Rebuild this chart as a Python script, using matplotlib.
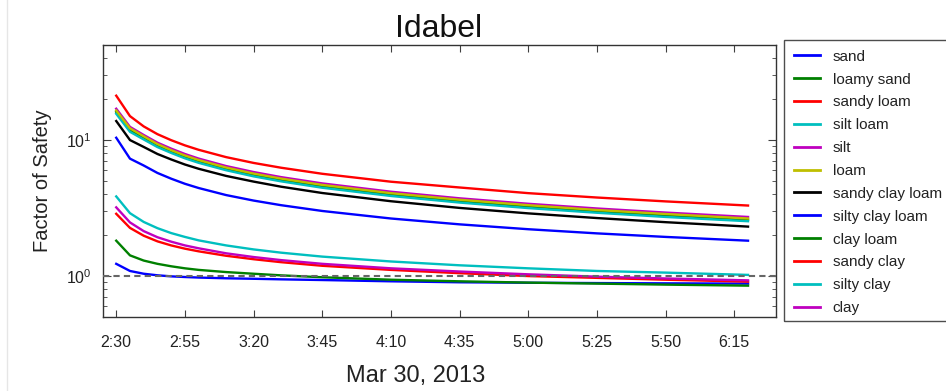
import datetime as dt
import matplotlib
matplotlib.use("Agg")
import matplotlib.pyplot as plt
from matplotlib.lines import Line2D
from matplotlib.patches import Rectangle

plt.rcParams["font.family"] = ["Liberation Sans", "DejaVu Sans"]

# Sample times (Mar 30, 2013)
time_labels = ["2:30", "2:35", "2:40", "2:45", "2:50", "2:55", "3:00", "3:10",
               "3:20", "3:30", "3:45", "4:10", "4:35", "5:00", "5:25", "5:50",
               "6:20"]

# Factor of safety per soil texture class
sand = [10.4, 7.3, 6.5, 5.73, 5.2, 4.77, 4.44, 3.94, 3.59, 3.32, 3.01,
        2.65, 2.40, 2.21, 2.06, 1.94, 1.82]
loamy_sand = [16.1, 11.9, 10.4, 9.14, 8.26, 7.54, 6.98, 6.15, 5.56, 5.10, 4.58,
              3.98, 3.56, 3.25, 3.00, 2.80, 2.60]
sandy_loam = [21.2, 15.0, 12.6, 11.05, 9.98, 9.14, 8.48, 7.49, 6.79, 6.26, 5.65,
              4.94, 4.48, 4.07, 3.78, 3.54, 3.30]
silt_loam = [15.6, 11.5, 10.1, 8.88, 8.04, 7.34, 6.80, 6.00, 5.41, 4.97, 4.46,
             3.88, 3.47, 3.16, 2.92, 2.72, 2.53]
silt = [17.0, 12.5, 10.9, 9.57, 8.65, 7.90, 7.31, 6.44, 5.82, 5.34, 4.80,
        4.17, 3.73, 3.40, 3.14, 2.93, 2.72]
loam = [16.5, 12.2, 10.65, 9.34, 8.43, 7.70, 7.13, 6.28, 5.67, 5.21, 4.68,
        4.07, 3.64, 3.32, 3.06, 2.86, 2.65]
sandy_clay_loam = [13.8, 10.0, 8.9, 7.9, 7.2, 6.61, 6.15, 5.45, 4.95, 4.54, 4.08,
                   3.55, 3.17, 2.89, 2.67, 2.49, 2.31]
silty_clay_loam = [1.23, 1.09, 1.04, 1.013, 0.995, 0.984, 0.975, 0.963, 0.955,
                   0.946, 0.935, 0.915, 0.90, 0.893, 0.888, 0.884, 0.88]
clay_loam = [1.82, 1.42, 1.30, 1.23, 1.18, 1.14, 1.11, 1.07, 1.04, 1.012, 0.98,
             0.94, 0.915, 0.895, 0.88, 0.865, 0.85]
sandy_clay = [2.87, 2.26, 1.98, 1.80, 1.68, 1.59, 1.52, 1.41, 1.33, 1.265, 1.19,
              1.11, 1.05, 1.00, 0.97, 0.94, 0.91]
silty_clay = [3.85, 2.90, 2.50, 2.25, 2.07, 1.94, 1.83, 1.68, 1.57, 1.486, 1.39,
              1.28, 1.20, 1.14, 1.09, 1.06, 1.02]
clay = [3.20, 2.48, 2.14, 1.93, 1.79, 1.68, 1.60, 1.47, 1.38, 1.31, 1.23,
        1.14, 1.08, 1.03, 0.99, 0.96, 0.93]

soil_names = ["sand", "loamy sand", "sandy loam", "silt loam", "silt", "loam",
              "sandy clay loam", "silty clay loam", "clay loam", "sandy clay",
              "silty clay", "clay"]
soil_values = [sand, loamy_sand, sandy_loam, silt_loam, silt, loam,
               sandy_clay_loam, silty_clay_loam, clay_loam, sandy_clay,
               silty_clay, clay]

tick_labels = ["2:30", "2:55", "3:20", "3:45", "4:10", "4:35", "5:00",
               "5:25", "5:50", "6:15"]

day = dt.date(2013, 3, 30)


def to_dt(label):
    h, m = label.split(":")
    return dt.datetime(day.year, day.month, day.day, int(h), int(m))


times = [to_dt(s) for s in time_labels]
ticks = [to_dt(s) for s in tick_labels]

colors = [(0, 0, 1), (0, 0.5, 0), (1, 0, 0), (0, 0.75, 0.75),
          (0.75, 0, 0.75), (0.75, 0.75, 0), (0, 0, 0)]

W, H = 946, 391
fig = plt.figure(figsize=(W / 100, H / 100), dpi=100)
ax = fig.add_axes([102.5 / W, 1 - 317 / H, (775.5 - 102.5) / W, (317 - 45) / H])

for i, (name, vals) in enumerate(zip(soil_names, soil_values)):
    ax.plot(times, vals, color=colors[i % len(colors)], lw=1.7, label=name,
            solid_joinstyle="round")

ax.axhline(1.0, color="0.4", lw=1.5, dashes=(3, 2), zorder=5)

ax.set_yscale("log")
ax.set_ylim(0.5, 50)
ax.set_xlim(to_dt("2:25"), to_dt("6:30"))
ax.set_xticks(ticks)
ax.set_xticklabels(tick_labels)

text_col = "#222222"
ax.tick_params(which="both", direction="in", top=True, right=True, colors="0.25",
               labelcolor=text_col)
ax.tick_params(axis="x", which="major", length=5, width=0.8, pad=13, labelsize=11.5)
ax.tick_params(axis="y", which="major", length=6, width=0.8, pad=8, labelsize=11.5)
ax.tick_params(axis="y", which="minor", length=3, width=0.6)
ax.tick_params(axis="x", which="minor", bottom=False, top=False)
for sp in ax.spines.values():
    sp.set_color("0.2")
    sp.set_linewidth(1.0)

ax.set_ylabel("Factor of Safety", fontsize=14.5, color=text_col, labelpad=10)
ax.set_title("Idabel", fontsize=23, color="#111111", pad=6)
fig.text(416 / W, 1 - 376 / H, "Mar 30, 2013", fontsize=17, color=text_col,
         ha="center", va="center")

# Legend entries, with a square frame drawn around them
leg = ax.legend(loc="upper left", bbox_to_anchor=(784.3 / W, 1 - 39.5 / H),
                bbox_transform=fig.transFigure, borderaxespad=0, fontsize=11,
                frameon=False, handlelength=1.7, handletextpad=0.8,
                labelspacing=0.58, borderpad=0.665)
for t in leg.get_texts():
    t.set_color(text_col)
for h in leg.get_lines():
    h.set_linewidth(2)

fig.add_artist(Rectangle((783.5 / W, 1 - 320.7 / H), (960 - 783.5) / W,
                         (320.7 - 39.5) / H, transform=fig.transFigure,
                         facecolor="none", edgecolor="0.3", lw=1.0, clip_on=False))

fig.add_artist(Line2D([7 / W, 7 / W], [0, 1], transform=fig.transFigure,
                      color="0.9", lw=1))

fig.savefig("out.png", dpi=100)
